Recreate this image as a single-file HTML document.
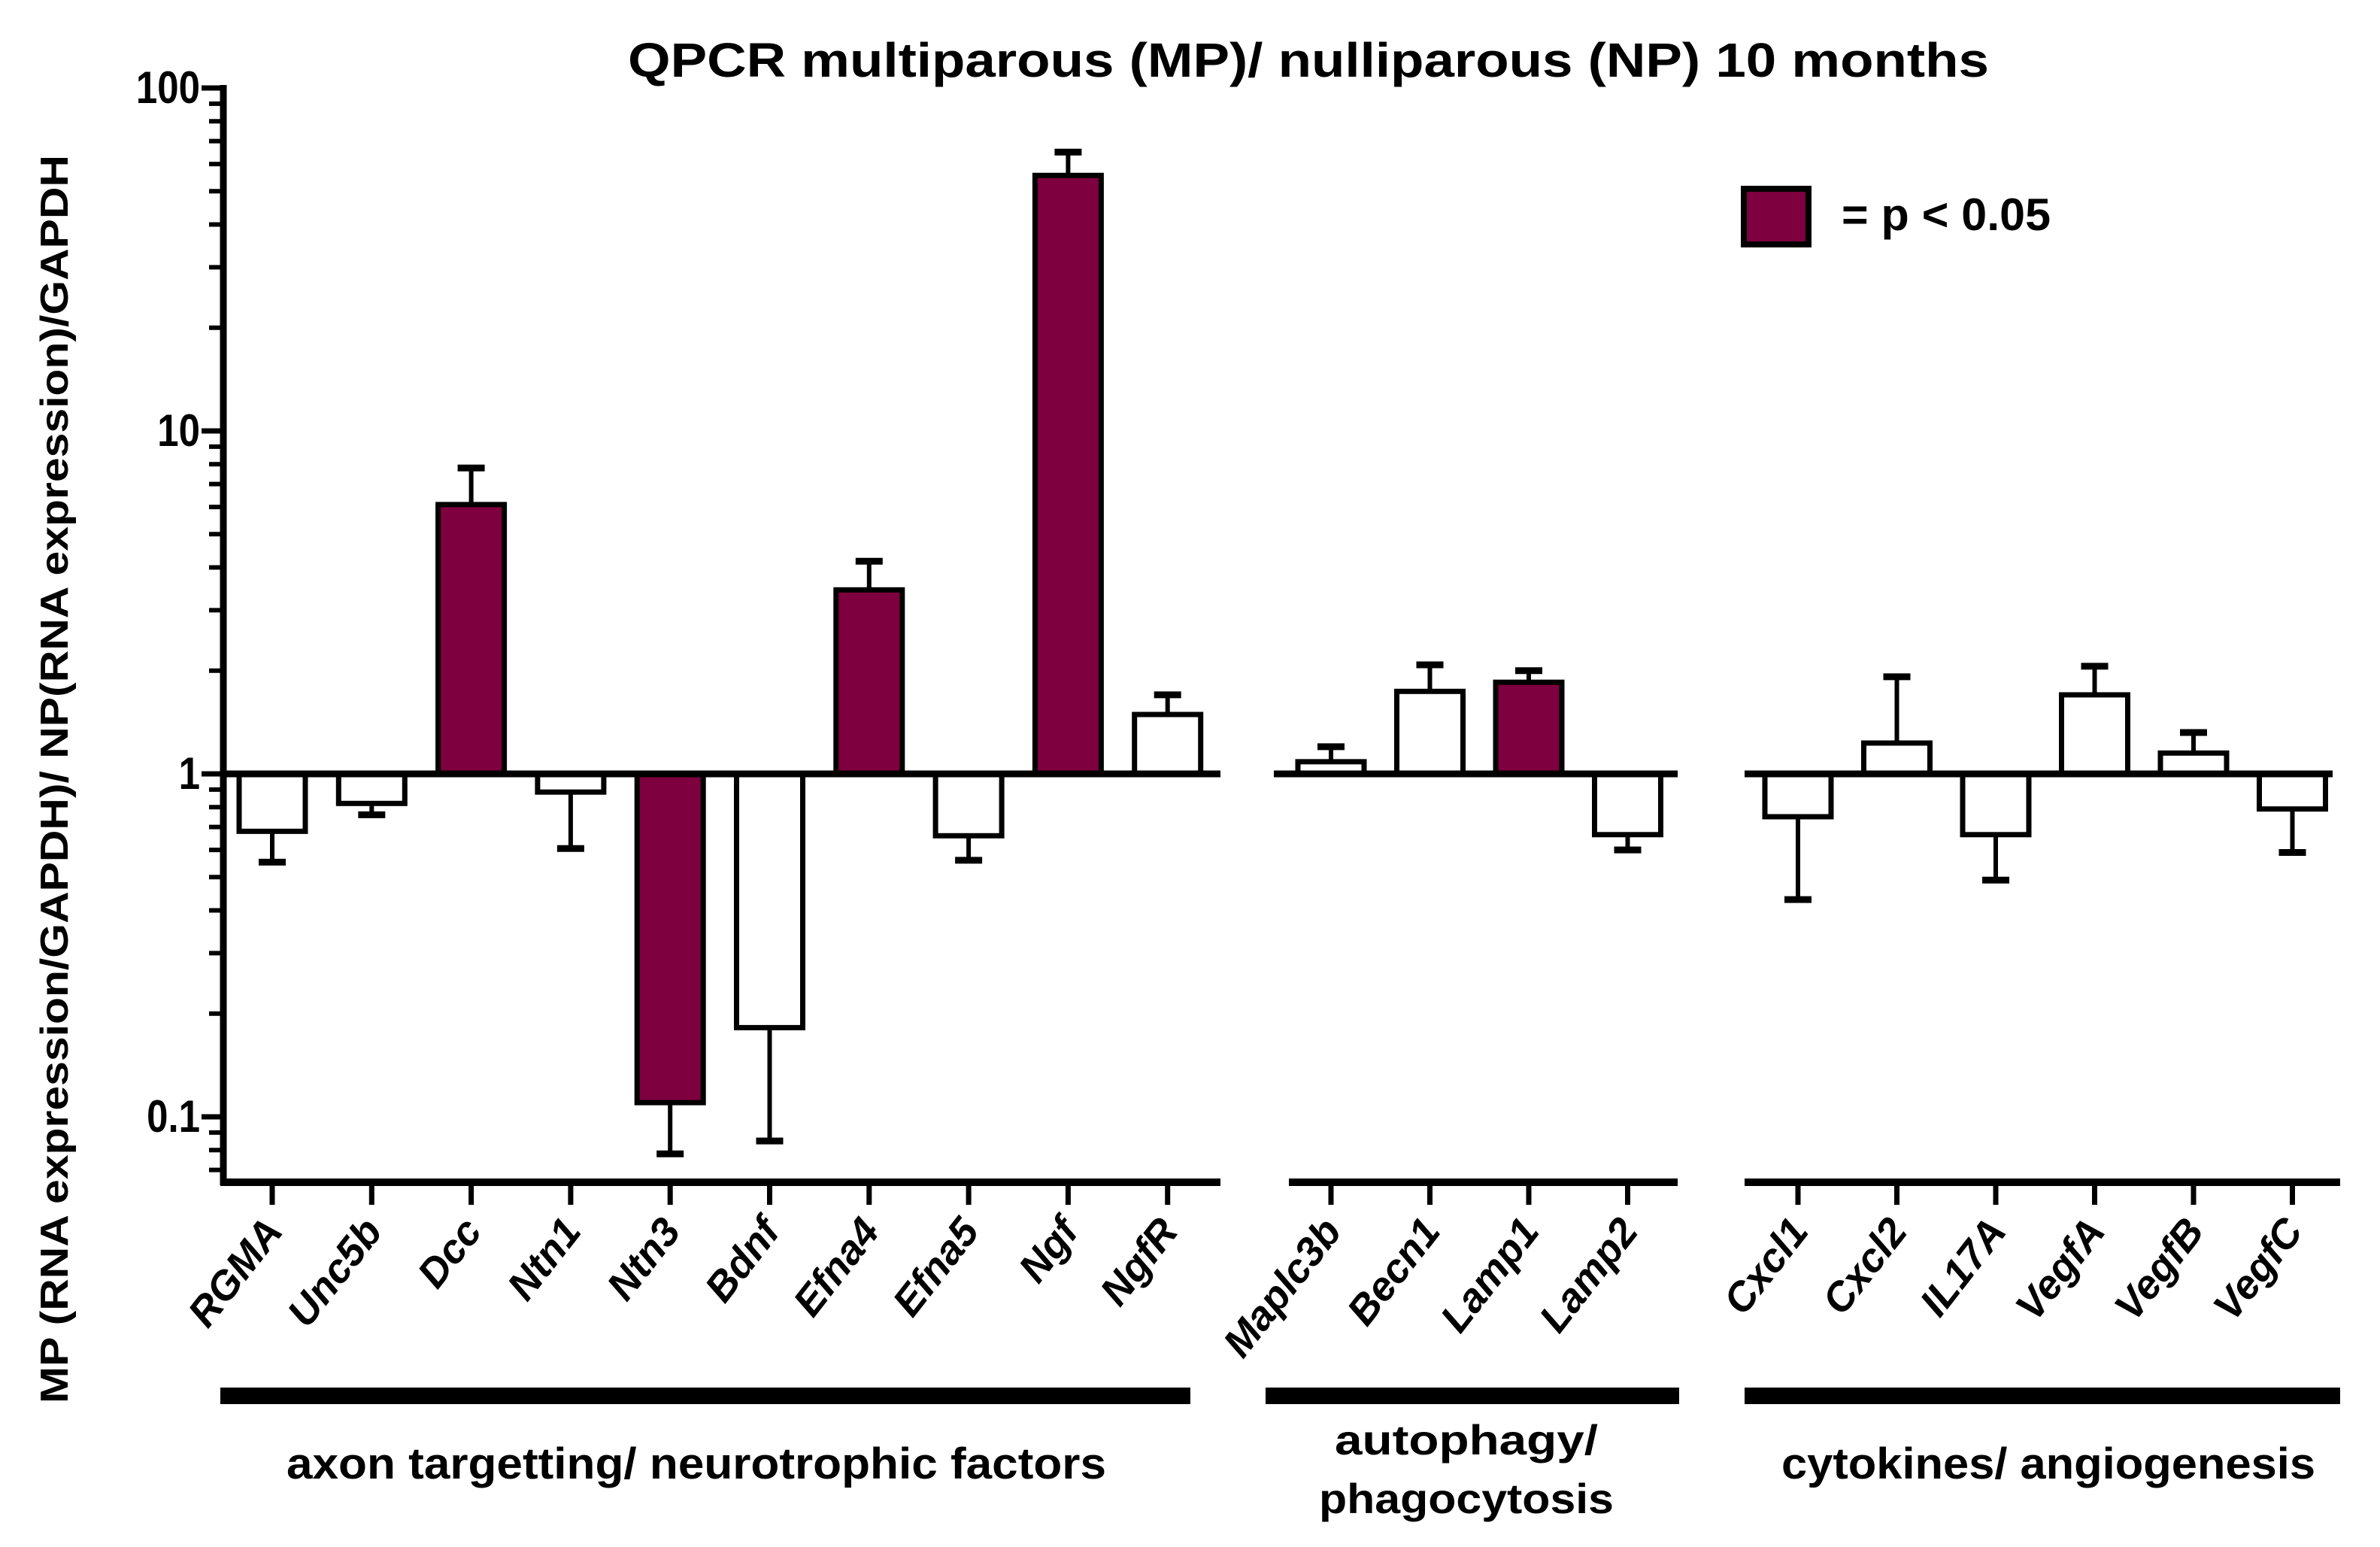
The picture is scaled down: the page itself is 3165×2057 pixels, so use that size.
<!DOCTYPE html>
<html><head><meta charset="utf-8"><style>
html,body{margin:0;padding:0;background:#fff}
svg{display:block}
text{font-family:"Liberation Sans",Arial,sans-serif;font-weight:bold;fill:#000}
</style></head><body>
<svg id="chart" width="3165" height="2057" viewBox="0 0 3165 2057" xmlns="http://www.w3.org/2000/svg">
<text x="835" y="102" font-size="64" textLength="1810" lengthAdjust="spacingAndGlyphs">QPCR multiparous (MP)/ nulliparous (NP)  10 months</text>
<text transform="translate(90,1036) rotate(-90)" text-anchor="middle" font-size="52" textLength="1660" lengthAdjust="spacingAndGlyphs">MP (RNA expression/GAPDH)/ NP(RNA expression)/GAPDH</text>
<rect x="2319" y="251" width="86" height="74" fill="#7e003e" stroke="#000" stroke-width="8"/>
<text x="2449" y="306" font-size="60" textLength="278" lengthAdjust="spacingAndGlyphs">= p &lt; 0.05</text>
<g id="axes"></g>
<g id="bars"></g>
<g id="xlabels"></g>
<rect x="293" y="1845" width="1290" height="22" fill="#000"/>
<rect x="1683" y="1845" width="550" height="22" fill="#000"/>
<rect x="2320" y="1845" width="792" height="22" fill="#000"/>
<text x="926" y="1966" text-anchor="middle" font-size="58" textLength="1090" lengthAdjust="spacingAndGlyphs">axon targetting/ neurotrophic factors</text>
<text x="1950" y="1934" text-anchor="middle" font-size="56" textLength="350" lengthAdjust="spacingAndGlyphs">autophagy/</text>
<text x="1950" y="2012" text-anchor="middle" font-size="56" textLength="392" lengthAdjust="spacingAndGlyphs">phagocytosis</text>
<text x="2724" y="1966" text-anchor="middle" font-size="58" textLength="710" lengthAdjust="spacingAndGlyphs">cytokines/ angiogenesis</text>
</svg>
<script>
const categories = ["RGMA","Unc5b","Dcc","Ntn1","Ntn3","Bdnf","Efna4","Efna5","Ngf","NgfR","Maplc3b","Becn1","Lamp1","Lamp2","Cxcl1","Cxcl2","IL17A","VegfA","VegfB","VegfC"];
const groupOf = [0,0,0,0,0,0,0,0,0,0,1,1,1,1,2,2,2,2,2,2];
const means = [0.68,0.82,6.1,0.885,0.110,0.182,3.44,0.66,55.6,1.49,1.085,1.74,1.85,0.665,0.75,1.23,0.665,1.70,1.15,0.79];
const errEnds = [0.553,0.76,7.8,0.606,0.078,0.085,4.17,0.56,65,1.70,1.20,2.08,2.0,0.60,0.43,1.92,0.49,2.06,1.32,0.59];
const significant = [0,0,1,0,1,0,1,0,1,0,0,0,1,0,0,0,0,0,0,0];
const yTicks = [100,10,1,0.1];
const yTickLabels = ["100","10","1","0.1"];

const NS="http://www.w3.org/2000/svg";
function mk(tag,attrs,parent){const e=document.createElementNS(NS,tag);for(const k in attrs)e.setAttribute(k,attrs[k]);parent.appendChild(e);return e;}
const Y1=1029, DEC=456;
function y(v){return Y1-DEC*Math.log10(v);}
const groups=[{first:362,step:132.3,base:[293,1623],axis:[293,1623]},{first:1770,step:131.5,base:[1694,2231],axis:[1714,2231]},{first:2391,step:131.5,base:[2320,3102],axis:[2320,3112]}];
function x(i){const g=groupOf[i];let idx=0;for(let j=0;j<i;j++)if(groupOf[j]===g)idx++;return groups[g].first+idx*groups[g].step;}
const axes=document.getElementById('axes'),bars=document.getElementById('bars'),xl=document.getElementById('xlabels');
const AXB=1572;
let l=mk('line',{x1:297,y1:y(100)-4,x2:297,y2:AXB+4,stroke:'#000','stroke-width':9},axes);


for(let d=-2;d<2;d++){for(let m=2;m<=9;m++){const v=m*Math.pow(10,d);const yy=y(v);if(yy>AXB-2)continue;
 const t=mk('line',{x1:278,y1:yy,x2:297,y2:yy,stroke:'#000','stroke-width':6},axes);
 
 }}
yTicks.forEach((v,k)=>{const yy=y(v);
 const t=mk('line',{x1:268,y1:yy,x2:297,y2:yy,stroke:'#000','stroke-width':7},axes);
 
 
 const tx=mk('text',{x:266,y:yy+20,'text-anchor':'end','font-size':60,transform:`translate(266,0) scale(0.85,1) translate(-266,0)`},axes);
 tx.textContent=yTickLabels[k];
 
 });
groups.forEach((g,k)=>{
 const b=mk('line',{x1:g.base[0],y1:y(1),x2:g.base[1],y2:y(1),stroke:'#000','stroke-width':9},axes);
 
 
 const a=mk('line',{x1:g.axis[0],y1:AXB,x2:g.axis[1],y2:AXB,stroke:'#000','stroke-width':10},axes);
 
 });
const BW=88;
categories.forEach((c,i)=>{
 const cx=x(i),y0=y(1),ym=y(means[i]),ye=y(errEnds[i]);
 const e=mk('line',{x1:cx,y1:ym,x2:cx,y2:ye,stroke:'#000','stroke-width':6},bars);
 
 
 const cap=mk('line',{x1:cx-18,y1:ye,x2:cx+18,y2:ye,stroke:'#000','stroke-width':9},bars);
 
 
 const r=mk('rect',{x:cx-BW/2,y:Math.min(y0,ym),width:BW,height:Math.abs(ym-y0),fill:significant[i]?'#7e003e':'#fff',stroke:'#000','stroke-width':7},bars);
 
 
 const t=mk('line',{x1:cx,y1:AXB,x2:cx,y2:AXB+30,stroke:'#000','stroke-width':7},axes);
 
 
 const tx=mk('text',{x:0,y:0,'text-anchor':'end','font-size':54,'font-style':'italic',transform:`translate(${cx+16},${AXB+66}) rotate(-52)`},xl);
 tx.textContent=c;
 
 
});
groups.forEach(g=>{const b=mk('line',{x1:g.base[0],y1:y(1),x2:g.base[1],y2:y(1),stroke:'#000','stroke-width':9},bars);
 
 });
</script>
</body></html>
